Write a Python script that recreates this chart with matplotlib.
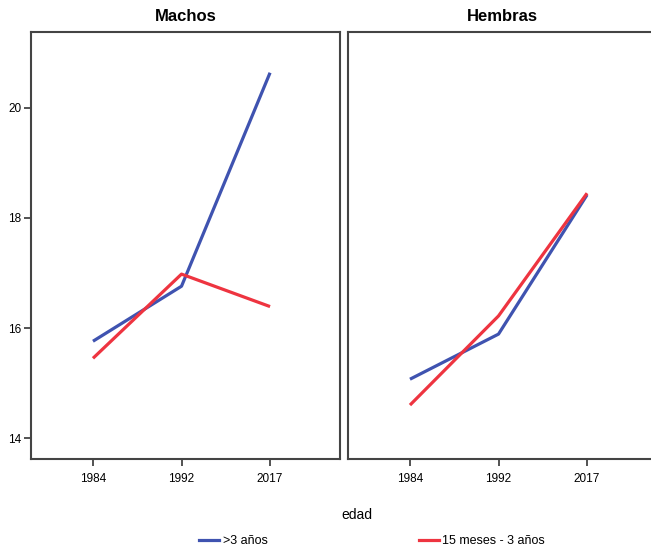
import matplotlib
matplotlib.use("Agg")
import matplotlib.pyplot as plt
from matplotlib.lines import Line2D

plt.rcParams["font.family"] = ["Liberation Sans", "DejaVu Sans"]

# ---- data ----
YEARS = ["1984", "1992", "2017"]
PANELS = ["Machos", "Hembras"]
SERIES_LABELS = [">3 años", "15 meses - 3 años"]

MACHOS_MAYOR3 = [15.76, 16.76, 20.64]
MACHOS_15M3A = [15.45, 16.98, 16.39]
HEMBRAS_MAYOR3 = [15.07, 15.89, 18.42]
HEMBRAS_15M3A = [14.60, 16.22, 18.45]

Y_TICKS = [14, 16, 18, 20]

# ---- style ----
BLUE = "#3f53b0"
RED = "#ee3440"
SPINE = "#444444"
LW = 2.3

W, H = 651, 548
fig = plt.figure(figsize=(W / 100, H / 100), dpi=100)

def px_axes(x0, y0, x1, y1):
    return fig.add_axes([x0 / W, 1 - y1 / H, (x1 - x0) / W, (y1 - y0) / H])

ax_l = px_axes(31, 32, 340, 459)
ax_r = px_axes(348, 32, 657, 459)

data = [(MACHOS_MAYOR3, MACHOS_15M3A), (HEMBRAS_MAYOR3, HEMBRAS_15M3A)]
for ax, title, (blue_vals, red_vals) in zip([ax_l, ax_r], PANELS, data):
    x = list(range(len(YEARS)))
    ax.plot(x, blue_vals, color=BLUE, lw=LW, solid_capstyle="butt")
    ax.plot(x, red_vals, color=RED, lw=LW, solid_capstyle="butt")
    ax.set_xlim(-0.70, 2.79)
    ax.set_ylim(13.62, 21.38)
    ax.set_xticks(x)
    ax.set_xticklabels(YEARS, fontsize=8.5)
    ax.set_yticks(Y_TICKS)
    ax.tick_params(axis="both", direction="out", length=5, width=1.3,
                   color=SPINE, labelsize=8.5, pad=2)
    ax.tick_params(axis="x", pad=5)
    for s in ax.spines.values():
        s.set_color(SPINE)
        s.set_linewidth(1.5)
    ax.set_title(title, fontsize=12, fontweight="bold", pad=8)

ax_r.tick_params(axis="y", left=False, labelleft=False)

fig.text(357 / W, 1 - 515 / H, "edad", fontsize=10, ha="center", va="center")

handles = [Line2D([], [], color=BLUE, lw=LW), Line2D([], [], color=RED, lw=LW)]
fig.legend(handles, SERIES_LABELS, loc="center", bbox_to_anchor=(372 / W, 1 - 541 / H),
           ncol=2, frameon=False, fontsize=9, handlelength=1.6, handletextpad=0.3,
           columnspacing=12.1)

fig.savefig("out.png", dpi=100)
